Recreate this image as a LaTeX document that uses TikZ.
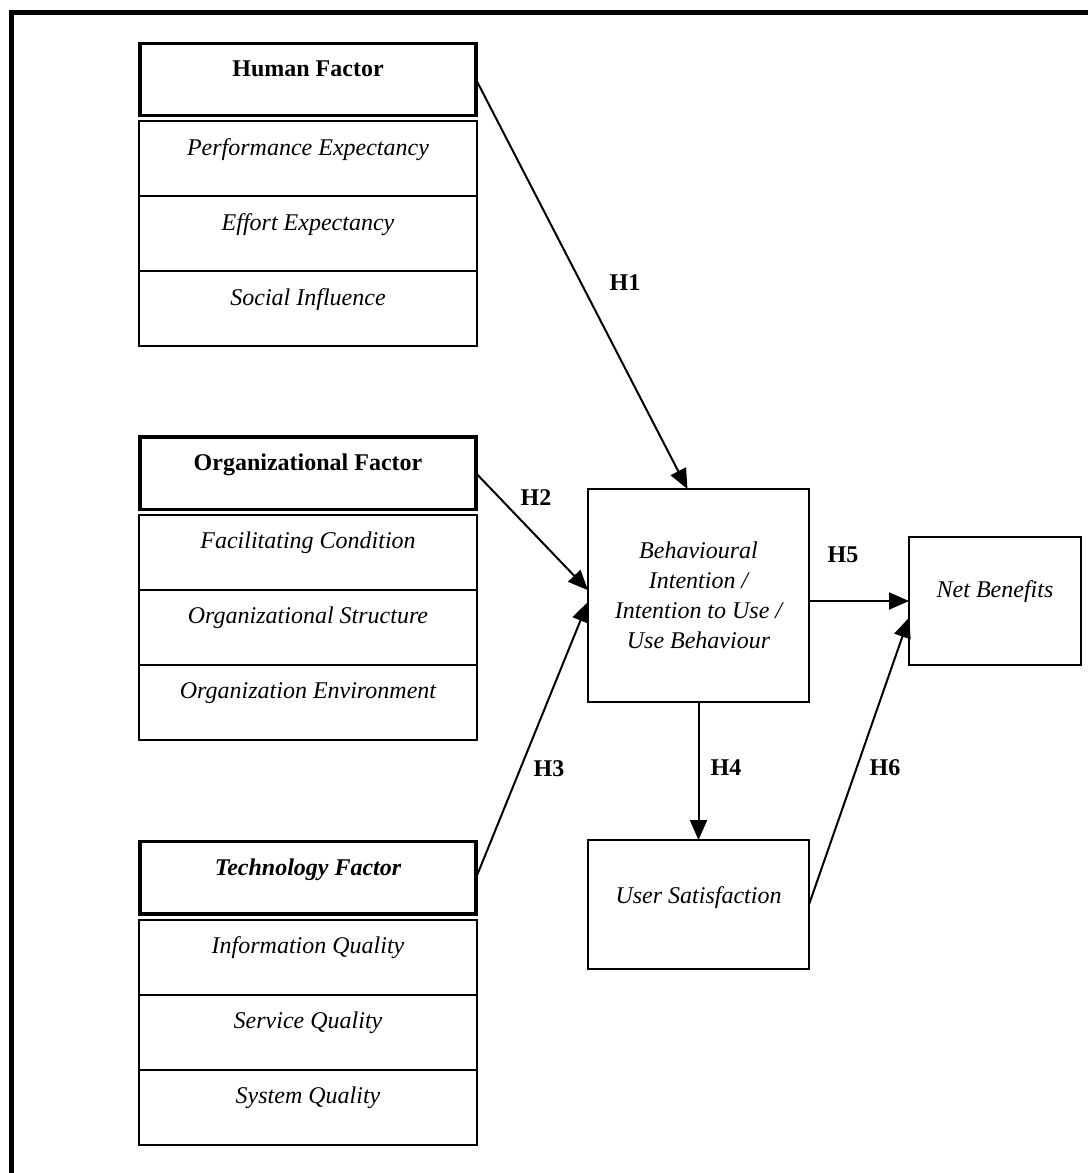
\documentclass[tikz,border=0pt]{standalone}
\usepackage{fontspec}
\setmainfont{Liberation Serif}
\usetikzlibrary{arrows.meta,calc,positioning}

\begin{document}
\begin{tikzpicture}[x=.5pt,y=-.5pt,>={Triangle[length=10pt,width=8.5pt]},
 every node/.style={font=\fontsize{12}{15}\selectfont},
 cell/.style={draw,line width=1pt,outer sep=0pt,inner sep=0pt,minimum width=169pt,
  text height=17pt,text depth=20.5pt,font=\fontsize{12}{15}\selectfont\itshape},
 head/.style={cell,line width=1.7pt,minimum width=168pt,text height=16.7pt,text depth=19.5pt,
  font=\fontsize{12}{15}\selectfont\bfseries},
 box/.style={draw,line width=1pt,outer sep=0pt,inner sep=0pt,align=center,
  font=\fontsize{12}{15}\selectfont\itshape},
 hyp/.style={font=\fontsize{12}{15}\selectfont\bfseries},
 link/.style={->,line width=1pt}]
\useasboundingbox (0,0) rectangle (1088,1173);
\draw[line width=2.5pt] (1088,12)--(11,12)--(11,1173);
% human factor
\node[head,anchor=north west] (hf) at (140,43.3) {Human Factor};
\node[cell,below=2.7pt of hf] (pe) {Performance Expectancy};
\node[cell,below=0pt of pe] (ee) {Effort Expectancy};
\node[cell,below=0pt of ee] (si) {Social Influence};
% organizational factor
\node[head,anchor=north west] (of) at (140,437) {Organizational Factor};
\node[cell,below=2.7pt of of] (fc) {Facilitating Condition};
\node[cell,below=0pt of fc] (os) {Organizational Structure};
\node[cell,below=0pt of os] (oe) {Organization Environment};
% technology factor
\node[head,anchor=north west] (tf) at (140,841.7) {\itshape Technology Factor};
\node[cell,below=2.7pt of tf] (iq) {Information Quality};
\node[cell,below=0pt of iq] (sq) {Service Quality};
\node[cell,below=0pt of sq] (yq) {System Quality};
% outcomes
\node[box,minimum width=110.5pt,minimum height=106.5pt] (bi) at (698.5,595.5)
 {Behavioural\\Intention /\\Intention to Use /\\Use Behaviour};
\node[box,minimum width=86pt,text height=30.25pt,text depth=33.75pt] (nb) at (995,601) {Net Benefits};
\node[box,minimum width=110.5pt,text height=31.5pt,text depth=33pt] (us) at (698.5,904.5) {User Satisfaction};
% hypotheses
\draw[link] (hf.east) -- ($(bi.north west)!.45!(bi.north east)$);
\draw[link] (of.east) -- ($(bi.north west)!.475!(bi.south west)$);
\draw[link] (tf.east) -- ($(bi.north west)!.53!(bi.south west)$);
\draw[link] (bi.south) -- (us.north);
\draw[link] (bi.east |- nb.west) -- (nb.west);
\draw[link] (us.east) -- ($(nb.north west)!.63!(nb.south west)$);
\node[hyp] (h1) at (625,283) {H1};
\node[hyp] (h2) at (536,498) {H2};
\node[hyp] (h3) at (549,769) {H3};
\node[hyp] (h4) at (726,768) {H4};
\node[hyp] (h5) at (843,555) {H5};
\node[hyp] (h6) at (885,768) {H6};
\end{tikzpicture}
\end{document}
